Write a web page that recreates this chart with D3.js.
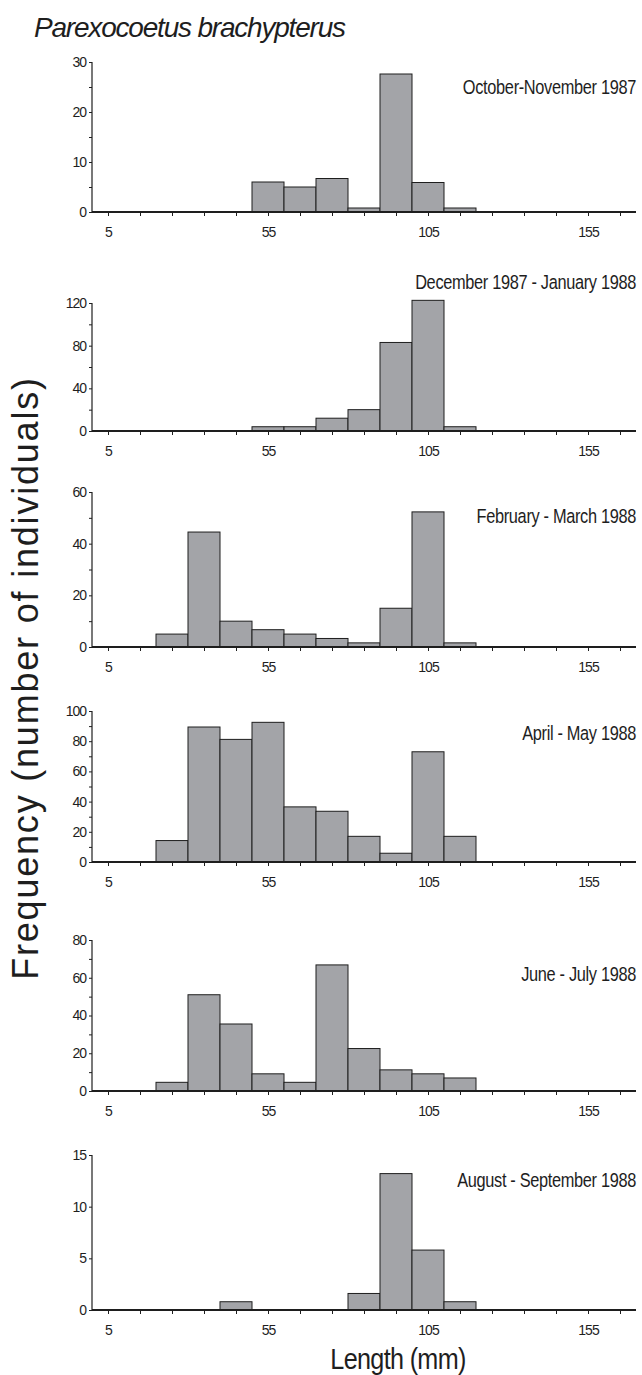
<!DOCTYPE html>
<html>
<head>
<meta charset="utf-8">
<script src="https://cdn.jsdelivr.net/npm/d3@7"></script>
<style>
  html, body { margin: 0; padding: 0; background: #fff; }
  svg { display: block; font-family: 'Liberation Sans', Arial, sans-serif; }
</style>
</head>
<body>
<svg id="chart" width="642" height="1375"></svg>
<script>
// Length-class lower edges (mm), bins are 10 mm wide, ticks sit on bin centres
const binStarts = [20, 30, 40, 50, 60, 70, 80, 90, 100, 110];
const xTickValues = [5, 15, 25, 35, 45, 55, 65, 75, 85, 95, 105, 115, 125, 135, 145, 155, 165];
const xTickLabels = [5, 55, 105, 155];

const periods = [
  'October-November 1987',
  'December 1987 - January 1988',
  'February - March 1988',
  'April - May 1988',
  'June - July 1988',
  'August - September 1988'
];

const octNov87 = [0, 0, 0, 6, 5, 6.7, 0.8, 27.6, 5.9, 0.8];
const decJan88 = [0, 0, 0, 4, 4, 12, 20, 83, 122.5, 4];
const febMar88 = [5, 44.5, 10, 6.7, 5, 3.3, 1.6, 15, 52.3, 1.6];
const aprMay88 = [14.2, 89.4, 81.2, 92.5, 36.5, 33.6, 17, 5.8, 73, 17];
const junJul88 = [4.6, 51, 35.5, 9.1, 4.6, 66.8, 22.5, 11.2, 9.1, 6.9];
const augSep88 = [0, 0, 0.8, 0, 0, 0, 1.6, 13.2, 5.8, 0.8];

const series = [octNov87, decJan88, febMar88, aprMay88, junJul88, augSep88];
const yMaxes = [30, 120, 60, 100, 80, 15];
const yTickSets = [
  [0, 10, 20, 30],
  [0, 40, 80, 120],
  [0, 20, 40, 60],
  [0, 20, 40, 60, 80, 100],
  [0, 20, 40, 60, 80],
  [0, 5, 10, 15]
];
const yMinorSteps = [5, 20, 10, 10, 10, null];

const svg = d3.select('#chart');
const left = 92;
const right = 636;
const panelTops = [62, 303, 492, 711, 940, 1155];
const panelBottoms = [212, 431, 647, 862, 1091, 1310];
const labelYs = [94, 289, 523, 740, 981, 1187];
const NARROW = 0.84;

const x = d3.scaleLinear().domain([0, 170]).range([left, right]);

const INK = '#1e1e1e';
const BAR = '#a3a4a8';

// Title
svg.append('text')
  .attr('x', 34)
  .attr('y', 37)
  .attr('font-size', 28)
  .attr('font-style', 'italic')
  .attr('letter-spacing', -1.2)
  .attr('fill', INK)
  .text('Parexocoetus brachypterus');

series.forEach((values, i) => {
  const y = d3.scaleLinear().domain([0, yMaxes[i]]).range([panelBottoms[i], panelTops[i]]);
  const g = svg.append('g');

  // Bars
  const bins = binStarts.map((start, j) => ({ start, value: values[j] })).filter((d) => d.value > 0);
  g.selectAll('.bar')
    .data(bins)
    .enter()
    .append('rect')
    .attr('class', 'bar')
    .attr('x', (d) => x(d.start))
    .attr('y', (d) => y(d.value))
    .attr('width', (d) => x(d.start + 10) - x(d.start))
    .attr('height', (d) => y(0) - y(d.value))
    .attr('fill', BAR)
    .attr('stroke', INK)
    .attr('stroke-width', 1);

  // X axis
  const xAxis = d3.axisBottom(x)
    .tickValues(xTickValues)
    .tickSize(4)
    .tickFormat((d) => (xTickLabels.includes(d) ? d : ''));
  const gx = g.append('g')
    .attr('transform', `translate(0,${panelBottoms[i]})`)
    .call(xAxis);
  gx.select('.domain').attr('stroke', INK).attr('stroke-width', 2).attr('d', `M${left},0H${right}`);
  gx.selectAll('.tick line').attr('stroke', INK);
  gx.selectAll('.tick text')
    .attr('y', 15)
    .attr('font-size', 14)
    .attr('letter-spacing', -1)
    .attr('font-family', 'Liberation Sans, Arial, sans-serif')
    .attr('fill', INK);

  // Y axis
  const minor = yMinorSteps[i]
    ? d3.range(0, yMaxes[i] + 0.001, yMinorSteps[i])
    : yTickSets[i];
  const yAxis = d3.axisLeft(y)
    .tickValues(minor)
    .tickSize(3)
    .tickFormat((d) => (yTickSets[i].includes(d) ? d : ''));
  const gy = g.append('g')
    .attr('transform', `translate(${left},0)`)
    .call(yAxis);
  gy.select('.domain').attr('stroke', INK).attr('stroke-width', 1.2).attr('d', `M0,${panelTops[i]}V${panelBottoms[i]}`);
  gy.selectAll('.tick line').attr('stroke', INK);
  gy.selectAll('.tick text')
    .attr('x', -6)
    .attr('font-size', 14)
    .attr('letter-spacing', -1)
    .attr('font-family', 'Liberation Sans, Arial, sans-serif')
    .attr('fill', INK);

  // Period label (narrow face imitated by a horizontal squeeze)
  g.append('text')
    .attr('transform', `translate(${right},${labelYs[i]}) scale(${NARROW},1)`)
    .attr('text-anchor', 'end')
    .attr('font-size', 19.5)
    .attr('letter-spacing', -0.4)
    .attr('fill', INK)
    .text(periods[i]);
});

// Axis titles
svg.append('text')
  .attr('transform', 'translate(38,678) rotate(-90)')
  .attr('text-anchor', 'middle')
  .attr('font-size', 36)
  .attr('letter-spacing', 1.8)
  .attr('fill', INK)
  .text('Frequency (number of individuals)');

svg.append('text')
  .attr('transform', `translate(398,1369) scale(${NARROW},1)`)
  .attr('text-anchor', 'middle')
  .attr('font-size', 30)
  .attr('letter-spacing', -0.8)
  .attr('fill', INK)
  .text('Length (mm)');
</script>
</body>
</html>
